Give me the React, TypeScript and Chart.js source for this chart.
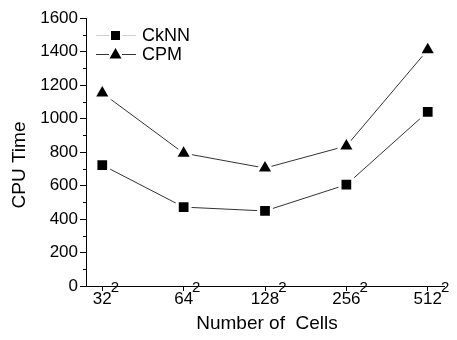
import React, { useEffect, useRef } from 'react';
import { Chart, registerables } from 'chart.js';
Chart.register(...registerables);

const cellBases = ['32', '64', '128', '256', '512'];
const cellExponent = '2';
const seriesNames = ['CkNN', 'CPM'];
const cknnValues = [722, 471, 448, 605, 1040];
const cpmValues = [1152, 793, 704, 836, 1410];
const yMinorTicks = [100, 300, 500, 700, 900, 1100, 1300, 1500];

const FONT = '"Liberation Sans", Arial, sans-serif';

const overlay = {
  id: 'overlay',
  afterDraw(chart: any) {
    const ctx = chart.ctx as CanvasRenderingContext2D;
    const xs = chart.scales.x;
    const ys = chart.scales.y;
    const area = chart.chartArea;
    ctx.save();
    // minor y ticks
    ctx.strokeStyle = '#000';
    ctx.lineWidth = 1;
    yMinorTicks.forEach((v) => {
      const y = Math.round(ys.getPixelForValue(v)) + 0.5;
      ctx.beginPath();
      ctx.moveTo(area.left - 3, y);
      ctx.lineTo(area.left, y);
      ctx.stroke();
    });
    // x tick labels with superscript
    ctx.fillStyle = '#000';
    ctx.textBaseline = 'alphabetic';
    cellBases.forEach((b, i) => {
      const x = xs.getPixelForValue(i);
      ctx.font = `17px ${FONT}`;
      const bw = ctx.measureText(b).width;
      ctx.textAlign = 'left';
      ctx.fillText(b, x - bw / 2, 304);
      ctx.font = `15px ${FONT}`;
      ctx.fillText(cellExponent, x + bw / 2 - 1, 292);
    });
    // x title
    ctx.font = `19px ${FONT}`;
    ctx.textAlign = 'center';
    ctx.fillText('Number of  Cells', 267, 329);
    // y title
    ctx.save();
    ctx.translate(25, 165);
    ctx.rotate(-Math.PI / 2);
    ctx.textAlign = 'center';
    ctx.fillText('CPU Time', 0, 0);
    ctx.restore();
    // legend
    const items = [
      { name: seriesNames[0], y: 35, line: '#cfcfcf', style: 'rect' },
      { name: seriesNames[1], y: 54, line: '#333', style: 'tri' },
    ];
    items.forEach((it) => {
      ctx.strokeStyle = it.line;
      ctx.lineWidth = 1;
      ctx.beginPath();
      ctx.moveTo(96, it.y + 0.5);
      ctx.lineTo(109, it.y + 0.5);
      ctx.moveTo(122, it.y + 0.5);
      ctx.lineTo(136, it.y + 0.5);
      ctx.stroke();
      ctx.fillStyle = '#000';
      if (it.style === 'rect') {
        ctx.fillRect(111, it.y - 4, 9, 9);
      } else {
        ctx.beginPath();
        ctx.moveTo(115.5, it.y - 6);
        ctx.lineTo(121.5, it.y + 4.5);
        ctx.lineTo(109.5, it.y + 4.5);
        ctx.closePath();
        ctx.fill();
      }
      ctx.font = `18px ${FONT}`;
      ctx.textAlign = 'left';
      ctx.textBaseline = 'middle';
      ctx.fillText(it.name, 142, it.y + 1);
    });
    ctx.restore();
  },
};

export default function App() {
  const ref = useRef<HTMLCanvasElement>(null);
  useEffect(() => {
    document.body.style.margin = '0';
    const toPts = (arr: number[]) => arr.map((v, i) => ({ x: i, y: v }));
    const chart = new Chart(ref.current!, {
      type: 'line',
      data: {
        datasets: [
          {
            label: seriesNames[0],
            data: toPts(cknnValues),
            borderColor: '#333',
            borderWidth: 1,
            pointStyle: 'rect',
            pointRadius: 9,
            pointBackgroundColor: '#000',
            pointBorderColor: '#fff',
            pointBorderWidth: 3,
            fill: false,
          },
          {
            label: seriesNames[1],
            data: toPts(cpmValues),
            borderColor: '#333',
            borderWidth: 1,
            pointStyle: 'triangle',
            pointRadius: 10,
            pointBackgroundColor: '#000',
            pointBorderColor: '#fff',
            pointBorderWidth: 3,
            fill: false,
          },
        ],
      },
      options: {
        animation: false,
        responsive: false,
        devicePixelRatio: 1,
        layout: { padding: { top: 18, right: 9, left: 0, bottom: 0 } },
        plugins: { legend: { display: false }, tooltip: { enabled: false } },
        scales: {
          x: {
            type: 'linear',
            min: -0.2,
            max: 4.2,
            afterBuildTicks: (s: any) => {
              s.ticks = cellBases.map((_, i) => ({ value: i }));
            },
            afterFit: (s: any) => {
              s.height = 54;
            },
            ticks: { callback: () => '' },
            grid: { drawOnChartArea: false, drawTicks: true, tickLength: 5, color: '#000' },
            border: { display: true, color: '#000', width: 1 },
          },
          y: {
            min: 0,
            max: 1600,
            afterFit: (s: any) => {
              s.width = 86;
            },
            ticks: {
              stepSize: 200,
              color: '#000',
              font: { family: FONT, size: 17 },
              padding: 2,
              callback: (v: any) => String(v),
            },
            grid: { drawOnChartArea: false, drawTicks: true, tickLength: 6, color: '#000' },
            border: { display: true, color: '#000', width: 1 },
          },
        },
      },
      plugins: [overlay],
    });
    return () => chart.destroy();
  }, []);
  return (
    <div style={{ width: 457, height: 340 }}>
      <canvas ref={ref} width={457} height={340} />
    </div>
  );
}
